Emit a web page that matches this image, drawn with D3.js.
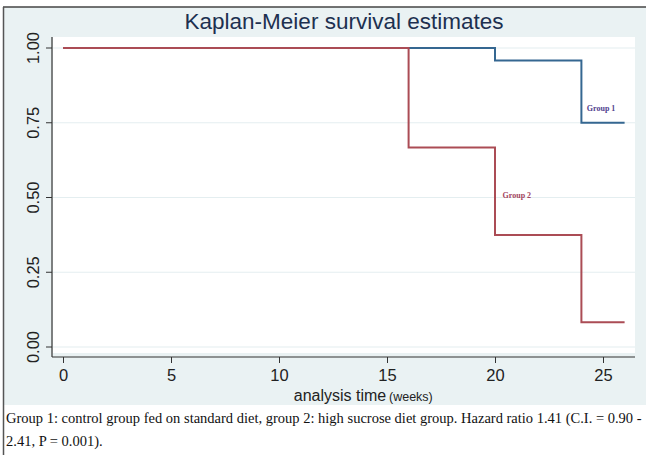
<!DOCTYPE html>
<html>
<head>
<meta charset="utf-8">
<script src="https://cdn.jsdelivr.net/npm/d3@7/dist/d3.min.js"></script>
<style>
  html, body { margin: 0; padding: 0; background: #ffffff; }
  svg { display: block; }
</style>
</head>
<body>
<svg id="chart" width="646" height="455"></svg>
<script>
// Kaplan-Meier step data (time in weeks, survival probability)
const group1Times = [0, 20, 24, 26];
const group1Surv  = [1.0, 0.958, 0.75, 0.75];
const group2Times = [0, 16, 20, 24, 26];
const group2Surv  = [1.0, 0.667, 0.375, 0.083, 0.083];

const xTicks = [0, 5, 10, 15, 20, 25];
const yTicks = [0, 0.25, 0.5, 0.75, 1.0];

const titleText = "Kaplan-Meier survival estimates";
const captionLines = [
  "Group 1: control group fed on standard diet, group 2: high sucrose diet group. Hazard ratio 1.41 (C.I. = 0.90 -",
  "2.41, P = 0.001)."
];

const svg = d3.select("#chart");
const W = 646, H = 455;

// graph region
svg.append("rect").attr("x", 4).attr("y", 7).attr("width", W - 4).attr("height", 398)
  .attr("fill", "#eaf2f3");

// plot region
const plot = { left: 52, right: 635, top: 37, bottom: 357 };
svg.append("rect").attr("x", plot.left + 1).attr("y", plot.top)
  .attr("width", plot.right - plot.left - 1).attr("height", plot.bottom - plot.top - 4)
  .attr("fill", "#ffffff");

const x = d3.scaleLinear().domain([0, 25]).range([63, 603]);
const y = d3.scaleLinear().domain([0, 1]).range([347, 48]);

// gridlines
svg.append("g").selectAll("line").data(yTicks).join("line")
  .attr("x1", plot.left + 1).attr("x2", plot.right)
  .attr("y1", d => y(d)).attr("y2", d => y(d))
  .attr("stroke", "#e4eef0").attr("stroke-width", 1.2);

// axes
const fontSans = "Arial, 'Liberation Sans', Helvetica, sans-serif";
const yAxis = d3.axisLeft(y).tickValues(yTicks).tickFormat(d3.format(".2f"))
  .tickSize(6).tickSizeOuter(0).tickPadding(5);
const gy = svg.append("g").attr("transform", `translate(${plot.left},0)`).call(yAxis);
gy.select(".domain").remove();
gy.selectAll(".tick line").attr("stroke", "#333").attr("stroke-width", 1);
gy.selectAll(".tick text")
  .attr("font-family", fontSans).attr("font-size", 16.5).attr("fill", "#222")
  .attr("text-anchor", "middle").attr("dy", null)
  .attr("transform", function (d) { return `translate(-19,${y(d)}) rotate(-90)`; })
  .attr("x", 0).attr("y", 0).attr("dominant-baseline", "central");
gy.selectAll(".tick").attr("transform", null);
gy.selectAll(".tick line").attr("y1", d => y(d)).attr("y2", d => y(d));

const xAxis = d3.axisBottom(x).tickValues(xTicks).tickFormat(d3.format("d"))
  .tickSize(6).tickSizeOuter(0).tickPadding(6);
const gx = svg.append("g").attr("transform", `translate(0,${plot.bottom})`).call(xAxis);
gx.select(".domain").remove();
gx.selectAll(".tick line").attr("stroke", "#333").attr("stroke-width", 1);
gx.selectAll(".tick text")
  .attr("font-family", fontSans).attr("font-size", 16.5).attr("fill", "#222");

// axis lines
svg.append("line").attr("x1", plot.left).attr("x2", plot.left)
  .attr("y1", plot.top).attr("y2", plot.bottom)
  .attr("stroke", "#333").attr("stroke-width", 1.2);
svg.append("line").attr("x1", plot.left).attr("x2", plot.right)
  .attr("y1", plot.bottom).attr("y2", plot.bottom)
  .attr("stroke", "#333").attr("stroke-width", 1.2);

// survival curves
const step = d3.line().x(d => x(d[0])).y(d => y(d[1])).curve(d3.curveStepAfter);
const series = [
  { times: group1Times, surv: group1Surv, color: "#356791" },
  { times: group2Times, surv: group2Surv, color: "#ab4c55" }
];
series.forEach(s => {
  svg.append("path")
    .datum(s.times.map((t, i) => [t, s.surv[i]]))
    .attr("d", step).attr("fill", "none")
    .attr("stroke", s.color).attr("stroke-width", 2);
});

// curve labels
svg.append("text").attr("x", x(24.25)).attr("y", y(0.79))
  .attr("font-family", "'Liberation Serif', 'Times New Roman', serif")
  .attr("font-weight", "bold").attr("font-size", 8).attr("fill", "#51428e")
  .text("Group 1");
svg.append("text").attr("x", x(20.35)).attr("y", y(0.497))
  .attr("font-family", "'Liberation Serif', 'Times New Roman', serif")
  .attr("font-weight", "bold").attr("font-size", 8).attr("fill", "#a34560")
  .text("Group 2");

// title
svg.append("text").attr("x", 344).attr("y", 29).attr("text-anchor", "middle")
  .attr("font-family", fontSans).attr("font-size", 22.5).attr("fill", "#1d3050")
  .text(titleText);

// x axis title: main text centred on the plot, unit note trailing it
svg.append("text").attr("x", 340).attr("y", 401).attr("text-anchor", "middle")
  .attr("font-family", fontSans).attr("font-size", 16).attr("fill", "#222")
  .text("analysis time");
svg.append("text").attr("x", 389).attr("y", 401)
  .attr("font-family", fontSans).attr("font-size", 12.5).attr("fill", "#222")
  .text("(weeks)");

// caption
svg.append("g").selectAll("text").data(captionLines).join("text")
  .attr("x", 6).attr("y", (d, i) => 423 + i * 23)
  .attr("font-family", "'Liberation Serif', 'Times New Roman', serif")
  .attr("font-size", 14.5).attr("fill", "#111")
  .text(d => d);

// frame
svg.append("line").attr("x1", 3).attr("x2", W).attr("y1", 7).attr("y2", 7)
  .attr("stroke", "#444").attr("stroke-width", 1.5);
svg.append("line").attr("x1", 3.5).attr("x2", 3.5).attr("y1", 7).attr("y2", H)
  .attr("stroke", "#555").attr("stroke-width", 1.5);
</script>
</body>
</html>
